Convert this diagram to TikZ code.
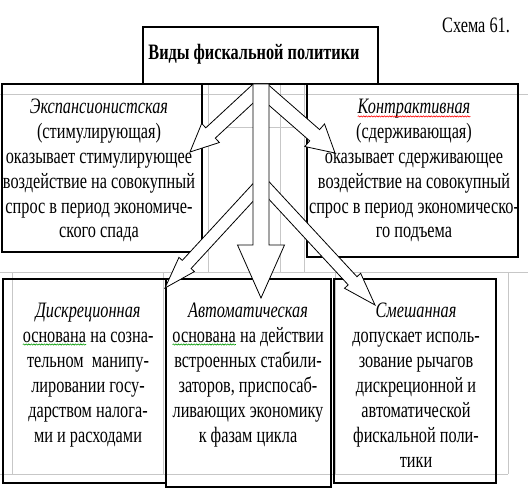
\documentclass[tikz,border=0pt]{standalone}
\usepackage{fontspec}
\setmainfont{Liberation Serif}[FakeStretch=0.74]
\usetikzlibrary{calc,decorations.pathmorphing}
\newcommand\wavy[2]{\tikz[baseline=(wv.base)]{\node[inner sep=0pt,outer sep=0pt] (wv) {#2};\draw[#1,line width=0.6pt,decorate,decoration={snake,amplitude=0.6pt,segment length=2.6pt}] ([yshift=-2.5pt]wv.base west) -- ([yshift=-2.5pt]wv.base east);}}
\newcommand\blockarrow[5]{% start, tip, shaft half, head half, head length
  \coordinate (#2-base) at ($(#2)!#5!(#1)$);
  \draw[arrowshape] ($(#1)!#3!90:(#2)$) -- ($(#2-base)!#3!90:(#2)$) -- ($(#2-base)!#4!90:(#2)$) -- (#2)
    -- ($(#2-base)!#4!-90:(#2)$) -- ($(#2-base)!#3!-90:(#2)$) -- ($(#1)!#3!-90:(#2)$) -- cycle;}
\begin{document}
\begin{tikzpicture}[x=1pt,y=-1pt,
  grid/.style={draw=black!22,line width=0.9pt},
  box/.style={draw=black,line width=1.2pt,inner sep=0pt,outer sep=0pt},
  arrowshape/.style={draw=black,fill=white,line width=0.8pt,line join=miter},
  txt/.style={inner sep=0pt,outer sep=0pt,align=center,anchor=north,font=\fontsize{22}{24.8}\selectfont},
  txtb/.style={txt,font=\fontsize{22}{25}\selectfont}]
\useasboundingbox (0,0) rectangle (528,492);
% background grid
\draw[grid] (0,94) -- (528,94);
\draw[grid] (202,127) -- (307,127);
\draw[grid] (0,272) -- (528,272);
\draw[grid] (0,474) -- (508,474);
\foreach \x in {208,280,304} \draw[grid] (\x,84) -- (\x,272);
\foreach \x in {12,163,335,508} \draw[grid] (\x,272) -- (\x,474);
% boxes
\node[box,minimum width=235pt,minimum height=57pt] (title) at (260.5,55.5) {};
\node[box,minimum width=200pt,minimum height=168pt] (exp) at (102,168) {};
\node[box,minimum width=211pt,minimum height=173pt] (con) at (412.5,170.5) {};
\node[box,minimum width=163pt,minimum height=204pt] (dis) at (84.5,381) {};
\node[box,minimum width=165pt,minimum height=208pt] (aut) at (248.5,383) {};
\node[box,minimum width=162pt,minimum height=204pt] (mix) at (415,381) {};
% arrows
\coordinate (hubA) at (258,89);
\coordinate (hubB) at (264,91);
\coordinate (hubC) at (259,186);
\coordinate (hubD) at (263,184);
\coordinate (hubE) at (261,84);
\coordinate (tipA) at (190,152);
\coordinate (tipB) at (335,153);
\coordinate (tipC) at (165,288);
\coordinate (tipD) at (375,305);
\coordinate (tipE) at (261,298);
\blockarrow{hubA}{tipA}{7pt}{13pt}{28pt}
\blockarrow{hubB}{tipB}{7.5pt}{15pt}{27pt}
\blockarrow{hubC}{tipC}{6pt}{10.5pt}{32pt}
\blockarrow{hubD}{tipD}{6pt}{11pt}{33pt}
\blockarrow{hubE}{tipE}{8pt}{23.5pt}{53pt}
% texts
\node[inner sep=0pt,anchor=base west,font=\fontsize{22}{24.8}\selectfont] (scheme) at (442,33) {Схема 61.};
\node[inner sep=0pt,anchor=base,font=\fontsize{22}{24.8}\selectfont\bfseries] (titletext) at (254,60) {Виды фискальной политики};
\node[txt] (exptext) at (99,96.6) {\strut\itshape Экспансионистская\\(стимулирующая)\\оказывает стимулирующее\\воздействие на совокупный\\спрос в период экономиче-\\ского спада};
\node[txt] (context) at (414,96.6) {\strut\itshape\wavy{red}{Контрактивная}\\(сдерживающая)\\оказывает сдерживающее\\воздействие на совокупный\\спрос в период экономическо-\\го подъема};
\node[txtb] (distext) at (88,299.5) {\strut\itshape Дискреционная\\\wavy{green!60!black}{основана} на созна-\\тельном \ манипу-\\лировании госу-\\дарством налога-\\ми и расходами};
\node[txtb] (auttext) at (248,299.5) {\strut\itshape Автоматическая\\\wavy{green!60!black}{основана} на действии\\встроенных стабили-\\заторов, приспосаб-\\ливающих экономику\\к фазам цикла};
\node[txtb] (mixtext) at (416,299.5) {\strut\itshape Смешанная\\допускает исполь-\\зование рычагов\\дискреционной и\\автоматической\\фискальной поли-\\тики};
\end{tikzpicture}
\end{document}
